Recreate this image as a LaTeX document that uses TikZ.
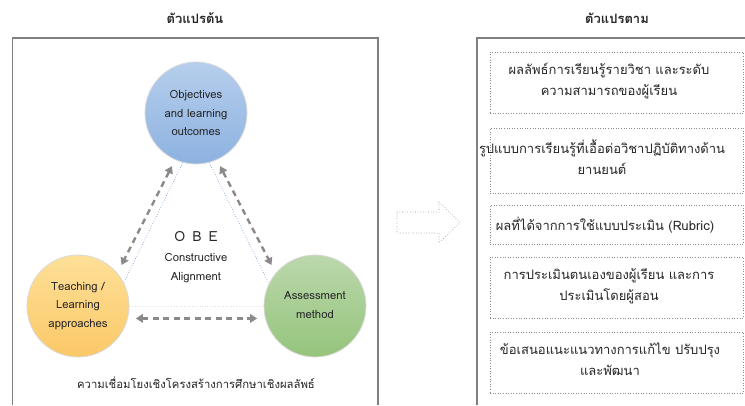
\documentclass[tikz,border=0pt]{standalone}
\usepackage{fontspec}
\setmainfont[Script=Thai]{Loma}
\usetikzlibrary{arrows.meta}
\definecolor{framegray}{HTML}{808080}
\definecolor{boxgray}{HTML}{8C8C8C}
\definecolor{arrowgray}{HTML}{8A8A8A}
\definecolor{tribl}{HTML}{5B8BD0}
\definecolor{txt}{HTML}{262626}
\tikzset{
  frameline/.style={draw=framegray, line width=1.4pt},
  dbox/.style={draw=boxgray, dotted, line width=0.6pt, minimum width=253pt, inner sep=0pt},
  btext/.style={font=\fontsize{13}{20.5}\selectfont, text=txt, align=center, inner sep=0pt},
  ctext/.style={font=\fontsize{11.3}{18.8}\selectfont, text=txt, align=center, inner sep=0pt},
  bubble/.style={circle, minimum size=102pt, inner sep=0pt, draw=white!85!black, line width=0.8pt},
  darrow/.style={draw=arrowgray, line width=2.4pt, dash pattern=on 6pt off 4.5pt,
     {Triangle[length=7pt,width=8.5pt]}-{Triangle[length=7pt,width=8.5pt]}},
  tline/.style={draw=tribl, dotted, line width=0.6pt},
}
\begin{document}
\begin{tikzpicture}[x=1pt,y=-1pt]
\useasboundingbox (0,0) rectangle (745,405);
\fill[white] (0,0) rectangle (745,405);
% titles
\node[font=\fontsize{13}{15}\selectfont\bfseries, text=txt] (t1) at (195,18) {ตัวแปรต้น};
\node[font=\fontsize{13}{15}\selectfont\bfseries, text=txt] (t2) at (617,18) {ตัวแปรตาม};
% frames
\draw[frameline] (12.5,405) -- (12.5,38) -- (378,38) -- (378,405);
\draw[frameline] (477,405) -- (477,38) -- (745,38);
% circles
\node[bubble, top color={rgb,255:red,182;green,206;blue,236}, bottom color={rgb,255:red,141;green,178;blue,225}] (obj) at (196,113) {};
\node[bubble, top color={rgb,255:red,253;green,224;blue,152}, bottom color={rgb,255:red,252;green,200;blue,104}] (teach) at (78,306) {};
\node[bubble, top color={rgb,255:red,187;green,216;blue,172}, bottom color={rgb,255:red,149;green,196;blue,124}] (asm) at (315,306) {};
\node[ctext] (objt) at (196,113) {Objectives\\and learning\\outcomes};
\node[ctext] (teacht) at (78,306) {Teaching /\\Learning\\approaches};
\node[ctext] (asmt) at (315,305) {Assessment\\method};
% thin triangle lines
\draw[tline] (obj.255) -- (teach.27);
\draw[tline] (obj.285) -- (asm.154);
\draw[draw=black!12, dotted, line width=0.6pt] (teach.0) -- (asm.180);
% dashed double arrows
\draw[darrow, shorten >=9pt, shorten <=7pt] (obj.246) -- (teach.40);
\draw[darrow, shorten >=9pt, shorten <=7pt] (obj.294) -- (asm.140);
\draw[darrow, shorten >=8pt, shorten <=8pt] (teach.-14) -- (asm.194);
% centre text
\node[font=\fontsize{14}{16}\selectfont, text=txt] (obe) at (196,237) {O\,\,\,B\,\,\,E};
\node[ctext] (cons) at (196,268.5) {Constructive\\Alignment};
\node[font=\fontsize{11.3}{14}\selectfont, text=txt, inner sep=0pt] (cap) at (196,383) {ความเชื่อมโยงเชิงโครงสร้างการศึกษาเชิงผลลัพธ์};
% hollow arrow
\draw[draw=boxgray, dotted, line width=0.6pt] (397,212) -- (439,212) -- (439,202) -- (460,222.5) -- (439,243) -- (439,233) -- (397,233) -- cycle;
% right boxes
\node[dbox, minimum height=61pt] (b1) at (616.5,82.5) {};
\node[dbox, minimum height=65pt] (b2) at (616.5,160.5) {};
\node[dbox, minimum height=39pt] (b3) at (616.5,224.5) {};
\node[dbox, minimum height=61pt] (b4) at (616.5,287.5) {};
\node[dbox, minimum height=61pt] (b5) at (616.5,362.5) {};
\node[btext] (b1t) at (609,81) {ผลลัพธ์การเรียนรู้รายวิชา และระดับ\\ความสามารถของผู้เรียน};
\node[btext] (b2t) at (602,157) {รูปแบบการเรียนรู้ที่เอื้อต่อวิชาปฏิบัติทางด้าน\\ยานยนต์};
\node[btext] (b3t) at (605,225) {ผลที่ได้จากการใช้แบบประเมิน (Rubric)};
\node[btext] (b4t) at (609,286) {การประเมินตนเองของผู้เรียน และการ\\ประเมินโดยผู้สอน};
\node[btext] (b5t) at (610,359) {ข้อเสนอแนะแนวทางการแก้ไข ปรับปรุง\\และพัฒนา};
\end{tikzpicture}
\end{document}
